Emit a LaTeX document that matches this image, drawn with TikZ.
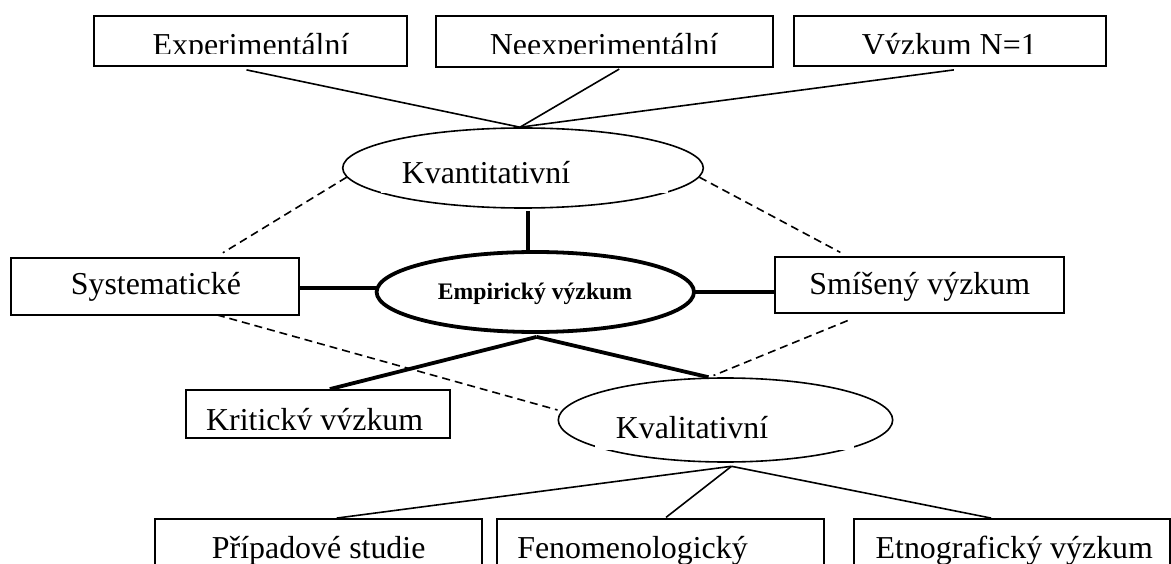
\documentclass[tikz,border=0pt]{standalone}
\usepackage{fontspec}
\setmainfont{Liberation Serif}
\usetikzlibrary{shapes.geometric,calc}
\begin{document}
\begin{tikzpicture}[x=1pt,y=-1pt,
  box/.style={draw, line width=1.8pt, rectangle, inner sep=0pt},
  oval/.style={draw, ellipse, inner sep=0pt, line width=1.6pt},
  txt/.style={inner sep=0pt, anchor=base, font=\fontsize{31.9}{36}\selectfont},
  thinline/.style={line width=1.6pt},
  heavyline/.style={line width=3.8pt},
  dashline/.style={line width=1.6pt, dash pattern=on 8pt off 5pt},
]
\useasboundingbox (0,0) rectangle (1171,564);
\fill[white] (0,0) rectangle (1171,564);

% boxes
\node[box, minimum width=312.4pt, minimum height=50.3pt] (exp) at (250.5,40.85) {};
\node[box, minimum width=337pt, minimum height=51pt] (neexp) at (604.2,41.2) {};
\node[box, minimum width=312.3pt, minimum height=50.3pt] (n1) at (949.85,40.85) {};
\node[box, minimum width=288.3pt, minimum height=57.3pt] (syst) at (154.85,286.35) {};
\node[box, minimum width=288.7pt, minimum height=56.6pt] (smi) at (919.35,285) {};
\node[box, minimum width=264.3pt, minimum height=48.3pt] (krit) at (317.85,414.15) {};
\node[box, minimum width=327.3pt, minimum height=61pt] (pripad) at (318.65,549.5) {};
\node[box, minimum width=327.6pt, minimum height=61pt] (fenom) at (660.5,549.5) {};
\node[box, minimum width=315.7pt, minimum height=61pt] (etno) at (1012.15,549.5) {};

% ellipses
\node[oval, minimum width=360.6pt, minimum height=80pt] (kvant) at (523,168) {};
\node[oval, line width=3.8pt, minimum width=317.4pt, minimum height=80pt] (emp) at (535.3,292) {};
\node[oval, minimum width=334.4pt, minimum height=84pt] (kval) at (725.5,420) {};

% white text-box backgrounds covering parts of the ellipse outlines
\fill[white] (381,150) rectangle (668,193);
\fill[white] (595,400) rectangle (854,449.5);

% top connectors
\coordinate (kt) at ($(kvant.north)+(-3,0)$);
\draw[thinline] ($(exp.south)+(-4,3)$) -- (kt);
\draw[thinline] ($(neexp.south)+(15,1.5)$) -- (kt);
\draw[thinline] ($(n1.south)+(4,3)$) -- (kt);

% heavy connectors
\coordinate (kb) at ($(kvant.south)+(4.7,2)$);
\draw[heavyline] (kb) -- ($(kb |- emp.north)+(0,4)$);
\coordinate (se) at ($(syst.east)+(0,1.7)$);
\draw[heavyline] (se) -- ($(se -| emp.west)+(2,0)$);
\draw[heavyline] ($(emp.east)+(-2,0)$) -- (emp.east -| smi.west);
\coordinate (eb) at ($(emp.south)+(1.4,3)$);
\draw[heavyline] (eb) -- ($(krit.north)+(12,0)$);
\draw[heavyline] (eb) -- ($(kval.north)+(-17,0)$);

% dashed connectors
\draw[dashline] (kvant.183) -- ($(syst.north)+(68,-4)$);
\draw[dashline] (kvant.-3) -- ($(smi.north)+(-79,-3.4)$);
\draw[dashline] ($(syst.south)+(62,-1)$) -- ($(kval.west)+(0,-10)$);
\draw[dashline] ($(smi.south)+(-71.7,6.4)$) -- ($(kval.north)+(-12,-1.7)$);

% bottom connectors
\coordinate (kb2) at ($(kval.south)+(6,3.5)$);
\draw[thinline] (kb2) -- ($(pripad.north)+(18,0)$);
\draw[thinline] (kb2) -- ($(fenom.north)+(5.5,-0.7)$);
\draw[thinline] (kb2) -- ($(etno.north)+(-21,0)$);

% texts
\begin{scope}
  \clip (90,17) rectangle (1110,54);
  \node[txt] (exptext) at (251,55.8) {Experimentální};
  \node[txt] (neexptext) at (604.2,55.8) {Neexperimentální};
  \node[txt] (n1text) at (949.3,55.8) {Výzkum N=1};
\end{scope}
\node[txt] (kvanttext) at (486,184) {Kvantitativní};
\node[txt] (systtext) at (155.9,295) {Systematické};
\node[txt, font=\bfseries\fontsize{23.7}{28}\selectfont] (emptext) at (535,299.5) {Empirický výzkum};
\node[txt] (smitext) at (919.8,294.3) {Smíšený výzkum};
\begin{scope}
  \clip (187,392) rectangle (449,429.5);
  \node[txt] (krittext) at (314.7,430.5) {Kritický výzkum};
\end{scope}
\node[txt] (kvaltext) at (692,438.3) {Kvalitativní};
\node[txt] (pripadtext) at (318.7,558.3) {Případové studie};
\node[txt] (fenomtext) at (632.5,558.3) {Fenomenologický};
\node[txt] (etnotext) at (1014.3,558.3) {Etnografický výzkum};
\end{tikzpicture}
\end{document}
